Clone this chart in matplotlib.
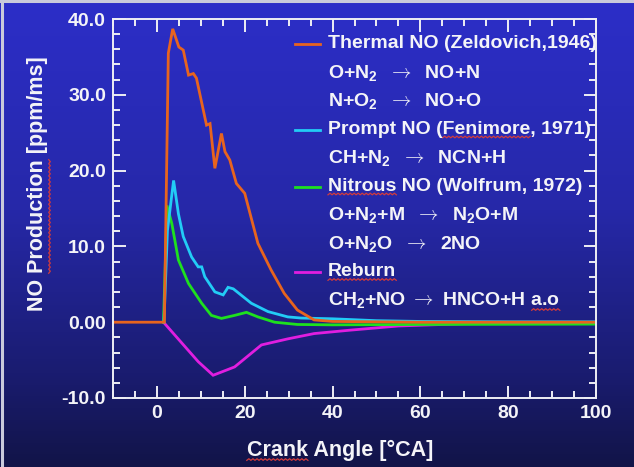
import numpy as np
import matplotlib
matplotlib.use("Agg")
import matplotlib.pyplot as plt
from matplotlib.ticker import MultipleLocator, FuncFormatter
from matplotlib.colors import LinearSegmentedColormap
from matplotlib.font_manager import FontProperties
from matplotlib.lines import Line2D

plt.rcParams["font.family"] = ["Liberation Sans", "DejaVu Sans"]
plt.rcParams["font.weight"] = "bold"
plt.rcParams["mathtext.fontset"] = "cm"
plt.rcParams["mathtext.default"] = "regular"

# ---- data: NO production rate vs crank angle ----
thermal_x = [-10, 1.7, 2.6, 3.6, 5.0, 6.0, 7.2, 8.3, 9.0, 11.3, 12.1, 13.2, 14.7, 15.5,
             16.6, 18.1, 20.0, 23.0, 26.0, 29.0, 32.0, 35.8, 40, 50, 60, 80, 100]
thermal_y = [0, 0, 35.5, 38.7, 36.3, 35.9, 32.6, 32.8, 32.2, 26.0, 26.2, 20.3, 24.9, 22.5,
             21.4, 18.3, 17.0, 10.4, 6.9, 3.8, 1.6, 0.3, 0.1, 0.05, 0.0, 0.0, 0.0]

prompt_x = [1.6, 2.4, 3.8, 4.9, 6.0, 7.9, 9.4, 10.2, 10.9, 13.2, 15.1, 16.2, 17.4,
            21.5, 25.3, 29.8, 32.8, 40, 50, 60, 80, 100]
prompt_y = [0, 12.1, 18.7, 14.3, 11.3, 8.6, 7.3, 7.3, 6.0, 4.0, 3.6, 4.6, 4.4,
            2.5, 1.4, 0.7, 0.55, 0.45, 0.2, 0.1, 0.05, 0.05]

nitrous_x = [1.5, 2.3, 3.4, 4.9, 7.2, 10.2, 12.4, 14.7, 17.7, 20.4, 23.0, 26.8, 32, 40, 60, 100]
nitrous_y = [0, 15.4, 13.0, 8.2, 5.1, 2.5, 0.9, 0.5, 0.9, 1.3, 0.7, 0.0, -0.3, -0.35, -0.3, -0.25]

reburn_x = [1.5, 9.4, 12.8, 17.7, 23.8, 29.8, 35.8, 44, 55, 70, 100]
reburn_y = [0, -5.2, -7.0, -5.9, -3.0, -2.2, -1.5, -1.05, -0.5, -0.2, -0.1]

series_colors = ["#e8641e", "#22ccf6", "#1ee01e", "#e01ee0"]

ARROW = r"$\mathrm{\rightarrow}$"
legend_rows = [
    ("Thermal NO (Zeldovich,1946)", 0),
    ("O+N$_2$  " + ARROW + "  NO+N", None),
    ("N+O$_2$  " + ARROW + "  NO+O", None),
    ("Prompt NO (Fenimore, 1971)", 1),
    ("CH+N$_2$  " + ARROW + "  NCN+H", None),
    ("Nitrous NO (Wolfrum, 1972)", 2),
    ("O+N$_2$+M  " + ARROW + "  N$_2$O+M", None),
    ("O+N$_2$O  " + ARROW + "  2NO", None),
    ("Reburn", 3),
    ("CH$_2$+NO " + ARROW + " HNCO+H a.o", None),
]

W, H = 634, 467
LEG_FS = 14
LAB_FS = 15.5

fig = plt.figure(figsize=(W / 100, H / 100), dpi=100)

# background gradient
bg = fig.add_axes([0, 0, 1, 1], zorder=-10)
cmap = LinearSegmentedColormap.from_list(
    "bg", [(0.0, "#2c2ec8"), (0.45, "#2628a8"), (0.8, "#1a1c70"), (1.0, "#121448")])
grad = np.linspace(0, 1, 256).reshape(-1, 1)
bg.imshow(grad, aspect="auto", cmap=cmap, extent=[0, 1, 0, 1], origin="upper")
bg.set_xlim(0, 1)
bg.set_ylim(0, 1)
bg.axis("off")
# light frame along top and left edges
bg.add_line(Line2D([0, 1], [0.997, 0.997], color="#c9cadb", lw=2.2))
bg.add_line(Line2D([0.003, 0.003], [0, 1], color="#c9cadb", lw=2.2))

ax = fig.add_axes([113 / W, 1 - 398 / H, (596 - 113) / W, (398 - 19) / H])
ax.set_facecolor("none")

for xs, ys, c in [(reburn_x, reburn_y, series_colors[3]),
                  (nitrous_x, nitrous_y, series_colors[2]),
                  (prompt_x, prompt_y, series_colors[1]),
                  (thermal_x, thermal_y, series_colors[0])]:
    ax.plot(xs, ys, color=c, lw=2.0, solid_joinstyle="miter")

ax.set_xlim(-10, 100)
ax.set_ylim(-10, 40)
ax.xaxis.set_major_locator(MultipleLocator(20))
ax.xaxis.set_minor_locator(MultipleLocator(5))
ax.yaxis.set_major_locator(MultipleLocator(10))
ax.yaxis.set_minor_locator(MultipleLocator(2))
ax.yaxis.set_major_formatter(FuncFormatter(lambda v, p: "0.00" if abs(v) < 1e-9 else f"{v:.1f}"))

for s in ax.spines.values():
    s.set_color("#eeeef4")
    s.set_linewidth(1.4)
ax.tick_params(which="both", direction="in", colors="#eeeef4", top=True, right=True,
               labelcolor="#f4f4f8", labelsize=14, width=1.4)
ax.tick_params(which="major", length=9, pad=5)
ax.tick_params(which="minor", length=5)

# legend block
lx_line0, lx_line1, lx_text = 295, 320, 328
y0, dy = 44, 28.5
texts = []
for i, (label, si) in enumerate(legend_rows):
    ypx = y0 + i * dy
    yf = 1 - ypx / H
    if si is not None:
        fig.add_artist(Line2D([lx_line0 / W, lx_line1 / W], [yf, yf],
                              color=series_colors[si], lw=2.0))
    t = fig.text(lx_text / W, yf, label, color="#f4f4f8", fontsize=LEG_FS,
                 fontweight="bold", va="center", ha="left")
    texts.append(t)

ylab = fig.text(38 / W, 1 - 184 / H, "NO Production [ppm/ms]", rotation=90,
                color="#f4f4f8", fontsize=LAB_FS, fontweight="bold", va="center", ha="center")
xlab = fig.text(340 / W, 1 - 450 / H, "Crank Angle [\u00b0CA]", color="#f4f4f8",
                fontsize=LAB_FS, fontweight="bold", va="center", ha="center")

# red spell-check squiggles under a few words
fig.canvas.draw()
r = fig.canvas.get_renderer()


def tw(s, size):
    fp = FontProperties(family="Liberation Sans", weight="bold", size=size)
    w, h, d = r.get_text_width_height_descent(s, fp, ismath=False)
    return w


def squiggle(x0, x1, y, vertical=False):
    n = max(int((x1 - x0) / 2.0), 2)
    u = np.linspace(x0, x1, n + 1)
    v = y + np.where(np.arange(n + 1) % 2 == 0, -0.8, 0.8)
    if vertical:
        xs, ys = v, u
    else:
        xs, ys = u, v
    fig.add_artist(Line2D(np.array(xs) / W, np.array(ys) / H, color="#d23c3c", lw=0.9))


def under(t, prefix, word, size):
    bb = t.get_window_extent(r)
    start = bb.x0 + tw(prefix + word, size) - tw(word, size) if prefix else bb.x0
    squiggle(start, start + tw(word, size), bb.y0 + 1)


under(texts[3], "Prompt NO (", "Fenimore", LEG_FS)
under(texts[5], "", "Nitrous", LEG_FS)
under(texts[8], "", "Reburn", LEG_FS)
bb = texts[9].get_window_extent(r)
squiggle(bb.x1 - tw("a.o", LEG_FS), bb.x1, bb.y0 + 1)
bb = xlab.get_window_extent(r)
squiggle(bb.x0, bb.x0 + tw("Crank", LAB_FS), bb.y0 + 1)
bb = ylab.get_window_extent(r)
ps = bb.y0 + tw("NO Production", LAB_FS) - tw("Production", LAB_FS)
squiggle(ps, ps + tw("Production", LAB_FS), bb.x1 + 1, vertical=True)

fig.savefig("out.png", dpi=100)
